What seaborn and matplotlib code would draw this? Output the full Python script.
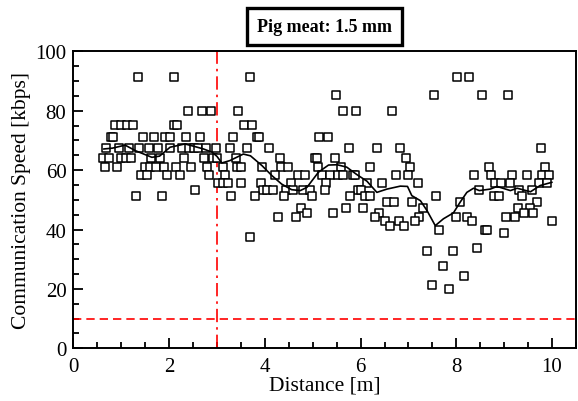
import numpy as np
import pandas as pd
import matplotlib
matplotlib.use("Agg")
import matplotlib.pyplot as plt
import seaborn as sns
from matplotlib.ticker import MultipleLocator

# --- Data (distance in m, speed in kbps) ---
speed_levels = [91.4, 85.3, 80.0, 75.3, 71.1, 67.4, 64.0, 61.0, 58.2, 55.7, 53.3,
                51.2, 49.2, 47.4, 45.7, 44.1, 42.7, 41.3, 40.0, 38.8, 37.6, 33.7,
                32.8, 27.8, 24.3, 21.3, 20.0]
distances_per_level = [
    [1.34, 2.11, 3.69, 8.01, 8.27],
    [5.48, 7.54, 8.53, 9.09],
    [2.40, 2.69, 2.88, 3.43, 5.64, 5.90, 6.66],
    [0.87, 0.99, 1.11, 1.25, 2.10, 2.17, 3.57, 3.74],
    [0.79, 0.83, 1.45, 1.69, 1.92, 2.02, 2.35, 2.65, 3.34, 3.83, 3.87, 5.14, 5.32],
    [0.68, 0.96, 1.17, 1.38, 1.58, 1.77, 2.01, 2.27, 2.42, 2.52, 2.61, 2.77, 2.98,
     3.27, 3.62, 4.08, 5.75, 6.34, 6.83, 9.76],
    [0.61, 0.75, 1.00, 1.10, 1.21, 1.63, 1.81, 2.31, 2.73, 2.91, 3.00, 3.39, 4.32,
     5.04, 5.09, 5.47, 6.94],
    [0.66, 0.91, 1.49, 1.60, 1.73, 1.90, 2.15, 2.45, 2.80, 3.12, 3.41, 3.50, 3.95,
     4.34, 4.49, 5.11, 5.59, 6.19, 7.04, 8.69, 9.86],
    [1.41, 1.53, 1.96, 2.22, 2.84, 3.16, 4.22, 4.69, 4.84, 5.19, 5.36, 5.52, 5.63,
     5.84, 5.89, 6.74, 7.00, 8.37, 8.73, 9.17, 9.48, 9.80, 9.94],
    [3.03, 3.12, 3.22, 3.50, 3.92, 4.54, 5.28, 6.13, 6.44, 7.20, 8.81, 8.93, 9.13,
     9.72, 9.90],
    [2.54, 3.97, 4.04, 4.17, 4.45, 4.59, 4.79, 4.95, 5.25, 5.95, 6.01, 8.48, 9.32, 9.58],
    [1.30, 1.85, 3.30, 3.80, 4.41, 4.99, 5.78, 6.10, 6.20, 7.58, 8.78, 8.89, 9.38],
    [6.56, 6.69, 7.08, 8.07, 9.68],
    [4.75, 5.70, 6.06, 7.30, 9.29, 9.53],
    [4.89, 5.43, 6.39, 9.42, 9.61],
    [4.27, 4.65, 6.30, 7.23, 7.99, 8.22, 9.04, 9.22],
    [6.50, 6.80, 7.13, 8.33, 10.0],
    [6.62, 6.90],
    [7.63, 8.59, 8.65],
    [8.99],
    [3.68],
    [8.44],
    [7.38, 7.94],
    [7.73],
    [8.17],
    [7.50],
    [7.85],
]

# moving-average curve
avg_distance = [0.63, 0.82, 1.08, 1.30, 1.64, 1.80, 2.02, 2.33, 2.52, 2.72, 2.90, 3.00,
                3.10, 3.27, 3.55, 3.70, 3.94, 4.15, 4.35, 4.56, 4.74, 4.88, 5.12, 5.33,
                5.51, 5.71, 5.92, 6.13, 6.34, 6.55, 6.83, 6.98, 7.07, 7.25, 7.39, 7.56,
                7.73, 7.94, 8.08, 8.22, 8.36, 8.48, 8.71, 8.85, 9.13, 9.27, 9.55, 9.75,
                10.0]
avg_speed = [67.1, 67.4, 68.4, 66.5, 64.3, 64.7, 67.7, 68.8, 68.0, 67.1, 66.0, 64.6,
             62.4, 63.2, 65.4, 64.8, 61.5, 58.1, 55.3, 53.4, 53.1, 54.2, 59.3, 61.7,
             61.8, 61.0, 58.5, 56.3, 52.5, 53.6, 54.6, 54.5, 51.4, 49.7, 46.3, 41.3,
             43.6, 45.6, 49.2, 52.5, 53.9, 53.1, 53.6, 54.5, 53.1, 53.9, 52.7, 54.8,
             55.9]

threshold_speed = 10
boundary_distance = 3

rows = [(d, v) for v, ds in zip(speed_levels, distances_per_level) for d in ds]
df = pd.DataFrame(rows, columns=["Distance", "Speed"])

# --- Plot ---
sns.set_theme(style="ticks")
plt.rcParams["font.family"] = ["Liberation Serif", "DejaVu Serif"]
plt.rcParams["text.color"] = "black"
plt.rcParams["axes.labelcolor"] = "black"

fig = plt.figure(figsize=(5.78, 4.02), dpi=100)
ax = fig.add_axes([0.127, 0.131, 0.8695, 0.739])

sns.scatterplot(data=df, x="Distance", y="Speed", ax=ax, marker="s", s=26,
                facecolor="white", edgecolor="black", linewidth=1.1, zorder=3)
sns.lineplot(x=avg_distance, y=avg_speed, ax=ax, color="black", linewidth=1.2,
             zorder=4)

ax.axhline(threshold_speed, color="red", linestyle=(0, (5, 3)), linewidth=1.2, zorder=2)
ax.axvline(boundary_distance, color="red", linestyle=(0, (8, 3, 1.5, 3)),
           linewidth=1.2, zorder=2)

ax.set_xlim(0, 10.5)
ax.set_ylim(0, 100)
ax.xaxis.set_major_locator(MultipleLocator(2))
ax.xaxis.set_minor_locator(MultipleLocator(0.5))
ax.yaxis.set_major_locator(MultipleLocator(20))
ax.yaxis.set_minor_locator(MultipleLocator(5))
ax.tick_params(which="both", direction="in", top=False, right=False,
               labelsize=15, width=1.3, colors="black")
ax.tick_params(which="major", length=7)
ax.tick_params(which="minor", length=4)
ax.tick_params(axis="x", which="major", pad=6)
ax.tick_params(axis="y", which="major", pad=5)
for side in ax.spines.values():
    side.set_linewidth(1.4)
    side.set_color("black")

ax.set_xlabel("Distance [m]", fontsize=15.5, labelpad=0, color="black")
ax.set_ylabel("Communication Speed [kbps]", fontsize=15.5, labelpad=3, color="black")

fig.text(0.561, 0.931, "Pig meat: 1.5 mm", fontsize=13, fontweight="bold",
         ha="center", va="center", color="black",
         bbox=dict(facecolor="white", edgecolor="black", linewidth=2.4,
                   boxstyle="square,pad=0.55"))

fig.savefig("out.png", dpi=100)
